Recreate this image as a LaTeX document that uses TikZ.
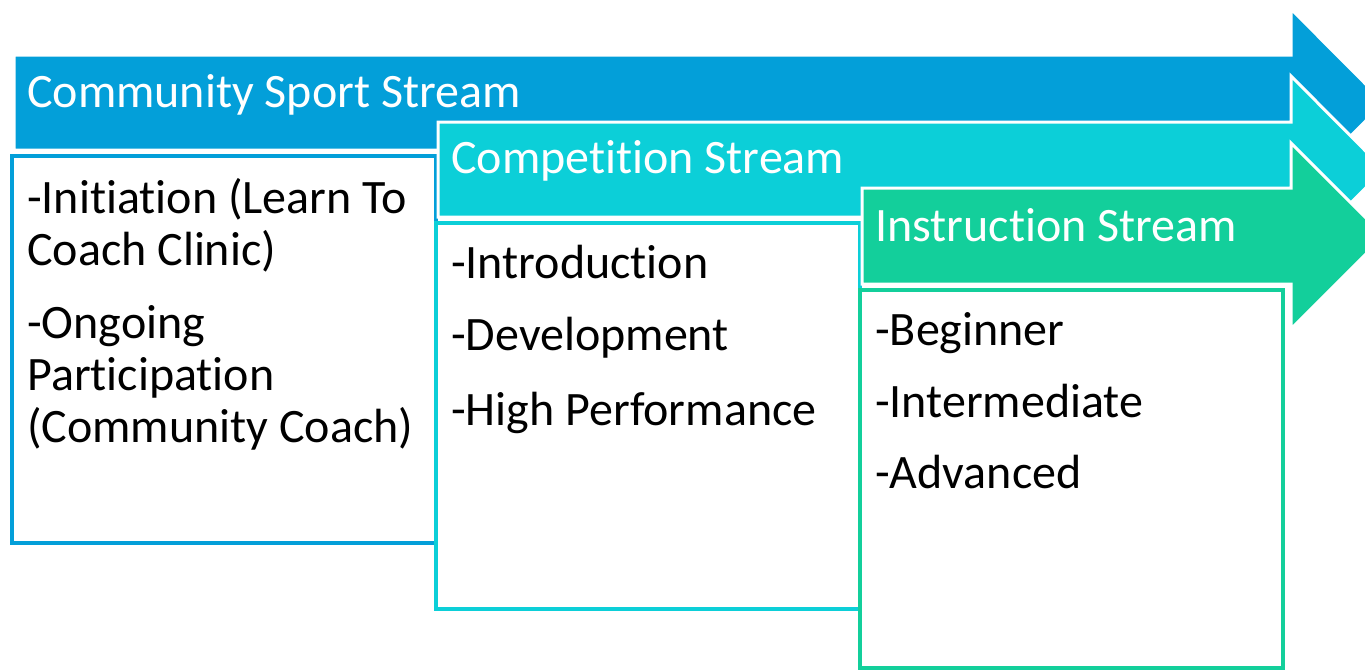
\documentclass[tikz,border=0pt]{standalone}
\usepackage{fontspec}
\setmainfont{Carlito}[Ligatures=NoCommon]

\definecolor{sportblue}{RGB}{3,159,217}
\definecolor{compcyan}{RGB}{12,207,216}
\definecolor{instgreen}{RGB}{19,207,155}

\tikzset{
  band/.style={fill=#1,draw=white,line width=3pt},
  panel/.style={fill=white,draw=#1,line width=4pt},
  heading/.style={anchor=base west,inner sep=0pt,text=white,font=\fontsize{48}{52}\selectfont},
  entry/.style={anchor=base west,inner sep=0pt,align=left,font=\fontsize{48}{52}\selectfont},
}

\begin{document}
\begin{tikzpicture}[x=1pt,y=-1pt]
\useasboundingbox (0,0) rectangle (1365,670);
\clip (0,0) rectangle (1365,670);

% community sport
\draw[band=sportblue] (14,55) -- (1291,55) -- (1291,9) -- (1384,102.5) -- (1291,196) -- (1291,150) -- (14,150) -- cycle;
\node[heading] (sport title) at (27,107) {Community Sport Stream};
\draw[panel=sportblue] (12,156) rectangle (436,543);
% base of a multi-line node sits on its last line
\node[entry] (initiation) at (27,265) {-Initiation (Learn To\\Coach Clinic)};
\node[entry] (ongoing) at (27,442) {-Ongoing\\Participation\\(Community Coach)};

% competition
\draw[band=compcyan] (438,122) -- (1291,122) -- (1291,76) -- (1384,169.5) -- (1291,263) -- (1291,217) -- (438,217) -- cycle;
\node[heading] (comp title) at (451,173) {Competition Stream};
\draw[panel=compcyan] (436,223) rectangle (860,609);
\node[entry] (intro) at (451,278) {-Introduction};
\node[entry] (devel) at (451,350) {-Development};
\node[entry] (highperf) at (451,425) {-High Performance};

% instruction
\draw[band=instgreen] (862,188) -- (1291,188) -- (1291,143) -- (1384,236) -- (1291,329) -- (1291,284) -- (862,284) -- cycle;
\node[heading] (inst title) at (875,241) {Instruction Stream};
\draw[panel=instgreen] (860,290) rectangle (1283,668);
\node[entry] (beginner) at (875,345) {-Beginner};
\node[entry] (intermed) at (875,417) {-Intermediate};
\node[entry] (advanced) at (875,488) {-Advanced};
\end{tikzpicture}
\end{document}
